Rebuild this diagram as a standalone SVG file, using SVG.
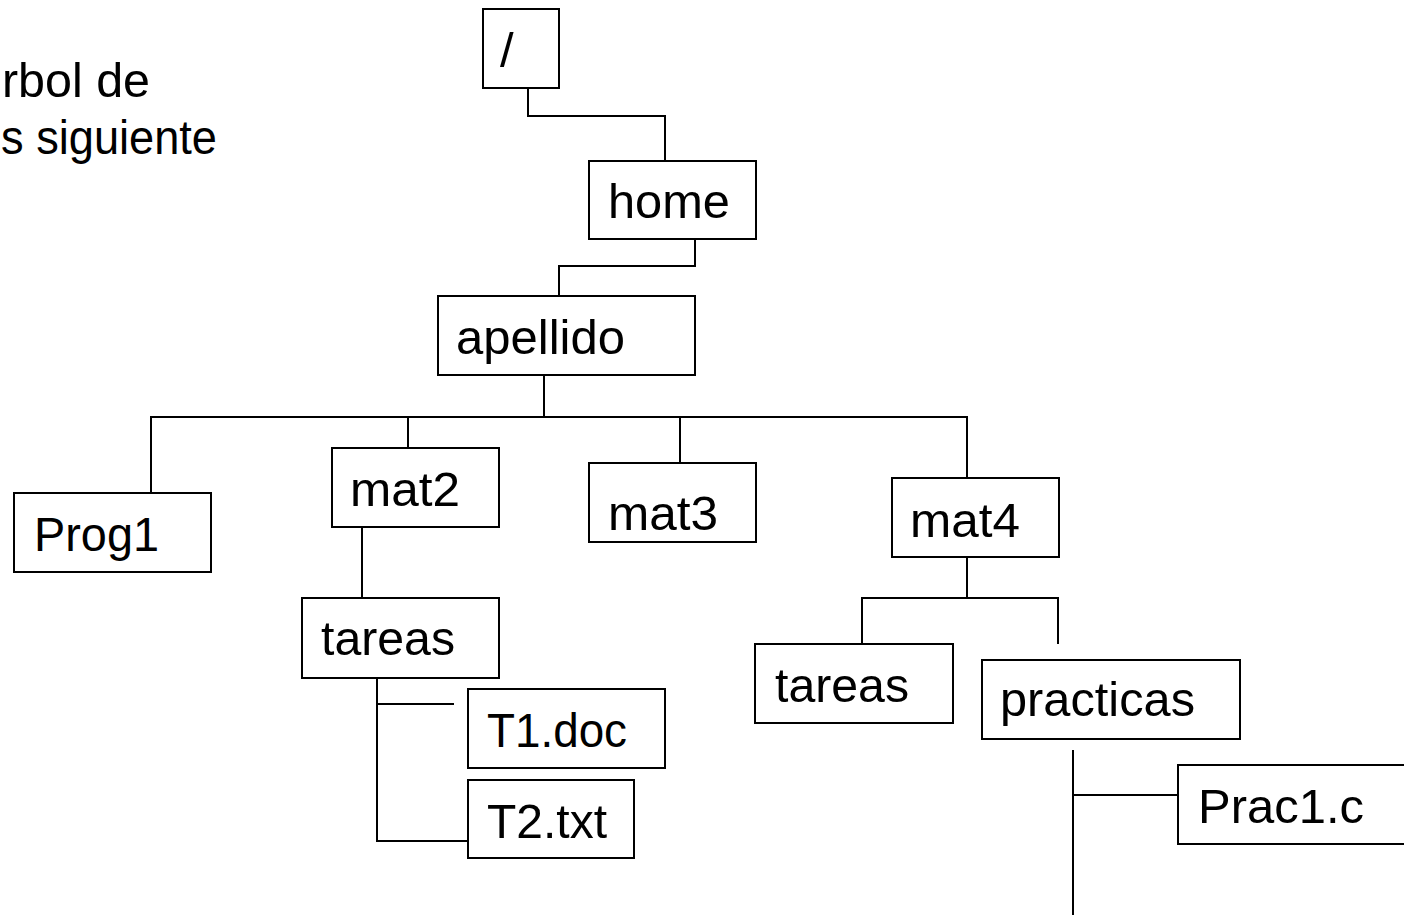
<svg xmlns="http://www.w3.org/2000/svg" width="1404" height="915" viewBox="0 0 1404 915">
<style>
.box{fill:#fff;stroke:#000;stroke-width:2}
.lbl{font-family:"Liberation Sans",Arial,sans-serif;font-size:49px;fill:#000}
.cap{font-family:"Liberation Sans",Arial,sans-serif;font-size:48px;fill:#000}
.conn path{fill:none;stroke:#000;stroke-width:2}
</style>
<rect width="1404" height="915" fill="#fff"/>
<text class="cap" x="2" y="97" textLength="148" lengthAdjust="spacingAndGlyphs">rbol de</text>
<text class="cap" x="1" y="154" textLength="216" lengthAdjust="spacingAndGlyphs">s siguiente</text>
<g id="connectors" class="conn">
<path d="M528,88 V116 H665 V161"/>
<path d="M695,235 V266 H559 V296"/>
<path d="M544,372 V417"/>
<path d="M151,493 V417 H967 V478"/>
<path d="M408,417 V448"/>
<path d="M680,417 V463"/>
<path d="M362,523 V598"/>
<path d="M377,674 V841 H468"/>
<path d="M377,704 H454"/>
<path d="M967,553 V598"/>
<path d="M862,644 V598 H1058 V644"/>
<path d="M1073,750 V915"/>
<path d="M1073,795 H1178"/>
</g>
<g id="root"><rect class="box" x="483" y="9" width="76" height="79"/><text class="lbl" x="500" y="67">/</text></g>
<g id="home"><rect class="box" x="589" y="161" width="167" height="78"/><text class="lbl" x="608" y="218" textLength="122" lengthAdjust="spacingAndGlyphs">home</text></g>
<g id="apellido"><rect class="box" x="438" y="296" width="257" height="79"/><text class="lbl" x="456" y="354" textLength="169" lengthAdjust="spacingAndGlyphs">apellido</text></g>
<g id="prog1"><rect class="box" x="14" y="493" width="197" height="79"/><text class="lbl" x="34" y="551" textLength="125" lengthAdjust="spacingAndGlyphs">Prog1</text></g>
<g id="mat2"><rect class="box" x="332" y="448" width="167" height="79"/><text class="lbl" x="350" y="506" textLength="110" lengthAdjust="spacingAndGlyphs">mat2</text></g>
<g id="mat3"><rect class="box" x="589" y="463" width="167" height="79"/><text class="lbl" x="608" y="530" textLength="110" lengthAdjust="spacingAndGlyphs">mat3</text></g>
<g id="mat4"><rect class="box" x="892" y="478" width="167" height="79"/><text class="lbl" x="910" y="537" textLength="110" lengthAdjust="spacingAndGlyphs">mat4</text></g>
<g id="tareas-mat2"><rect class="box" x="302" y="598" width="197" height="80"/><text class="lbl" x="321" y="655" textLength="134" lengthAdjust="spacingAndGlyphs">tareas</text></g>
<g id="t1doc"><rect class="box" x="468" y="689" width="197" height="79"/><text class="lbl" x="487" y="747" textLength="140" lengthAdjust="spacingAndGlyphs">T1.doc</text></g>
<g id="t2txt"><rect class="box" x="468" y="780" width="166" height="78"/><text class="lbl" x="487" y="838" textLength="120" lengthAdjust="spacingAndGlyphs">T2.txt</text></g>
<g id="tareas-mat4"><rect class="box" x="755" y="644" width="198" height="79"/><text class="lbl" x="775" y="702" textLength="134" lengthAdjust="spacingAndGlyphs">tareas</text></g>
<g id="practicas"><rect class="box" x="982" y="660" width="258" height="79"/><text class="lbl" x="1000" y="716" textLength="195" lengthAdjust="spacingAndGlyphs">practicas</text></g>
<g id="prac1c"><rect class="box" x="1178" y="765" width="240" height="79"/><text class="lbl" x="1198" y="823" textLength="166" lengthAdjust="spacingAndGlyphs">Prac1.c</text></g>
</svg>
